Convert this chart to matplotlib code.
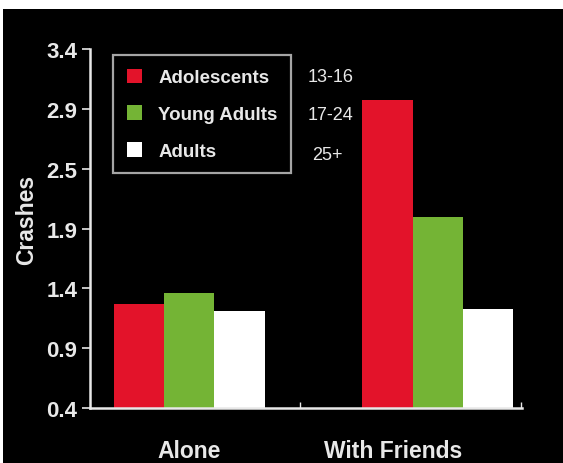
import matplotlib

matplotlib.use("Agg")
import matplotlib.pyplot as plt
from matplotlib.patches import Rectangle
import numpy as np

# data
groups = ["Alone", "With Friends"]
series_names = ["Adolescents", "Young Adults", "Adults"]
age_ranges = ["13-16", "17-24", "25+"]
adolescents = [1.27, 2.97]
young_adults = [1.36, 2.00]
adults = [1.21, 1.23]
tick_values = [0.4, 0.9, 1.4, 1.9, 2.4, 2.9, 3.4]
tick_labels = ["0.4", "0.9", "1.4", "1.9", "2.5", "2.9", "3.4"]

colors = ["#e3132a", "#74b435", "#ffffff"]
fg = "#e8e8e8"
plt.rcParams["font.family"] = ["Liberation Sans", "DejaVu Sans"]

fig = plt.figure(figsize=(5.63, 4.64), dpi=100, facecolor="white")
# black backdrop with a thin white margin on top / left, like the scan
fig.patches.append(Rectangle((3 / 563, 0), 1, 1 - 10 / 464, transform=fig.transFigure,
                             facecolor="black", edgecolor="none", zorder=-5))

ax = fig.add_axes([90 / 563, 1 - 409 / 464, 432 / 563, 359 / 464])
ax.set_facecolor("black")

x = np.arange(len(groups))
width = 0.202
for i, (name, vals) in enumerate(zip(series_names, [adolescents, young_adults, adults])):
    ax.bar(x + (i - 1) * width, vals, width, bottom=0, color=colors[i], label=name, zorder=2)

ax.set_yticks(tick_values)
ax.set_yticklabels(tick_labels, fontsize=16, fontweight="bold", color=fg)
# the second group label sits a bit left of its bars in the original
ax.set_xticks(x + np.array([0.0, -0.18]))
ax.set_xticklabels(groups, fontsize=16.5, fontweight="bold", color=fg)
ax.tick_params(axis="x", length=0, pad=22)
ax.tick_params(axis="y", length=6, width=1.2, color=fg, pad=3)
ax.set_xticks([0.447, 1.335], minor=True)
ax.tick_params(axis="x", which="minor", length=4, width=1, color=fg, direction="in")
ax.set_ylim(0.4, 3.4)
ax.set_xlim(-0.4, 1.34)

for side in ["top", "right"]:
    ax.spines[side].set_visible(False)
for side in ["left", "bottom"]:
    ax.spines[side].set_color(fg)
    ax.spines[side].set_linewidth(1.8)

ax.set_ylabel("Crashes", fontsize=16.5, fontweight="bold", color=fg)
ax.yaxis.set_label_coords(-0.12, 0.526)

leg = ax.legend(loc="upper left", bbox_to_anchor=(113 / 563, 1 - 56 / 464),
                bbox_transform=fig.transFigure, frameon=True, fancybox=False,
                prop={"size": 13.5, "weight": "bold"}, handlelength=0.85, handleheight=0.85,
                handletextpad=0.85, labelspacing=1.0, borderpad=0.72, borderaxespad=0)
leg.get_frame().set_facecolor("black")
leg.get_frame().set_edgecolor("#cfcfcf")
leg.get_frame().set_linewidth(1.6)
for t in leg.get_texts():
    t.set_color(fg)
for xpos, ypos, lab in zip([308, 308, 312], [77, 116, 155], age_ranges):
    fig.text(xpos / 563, 1 - ypos / 464, lab, fontsize=13, color=fg, va="center", ha="left")

fig.savefig("out.png", dpi=100, facecolor=fig.get_facecolor())
